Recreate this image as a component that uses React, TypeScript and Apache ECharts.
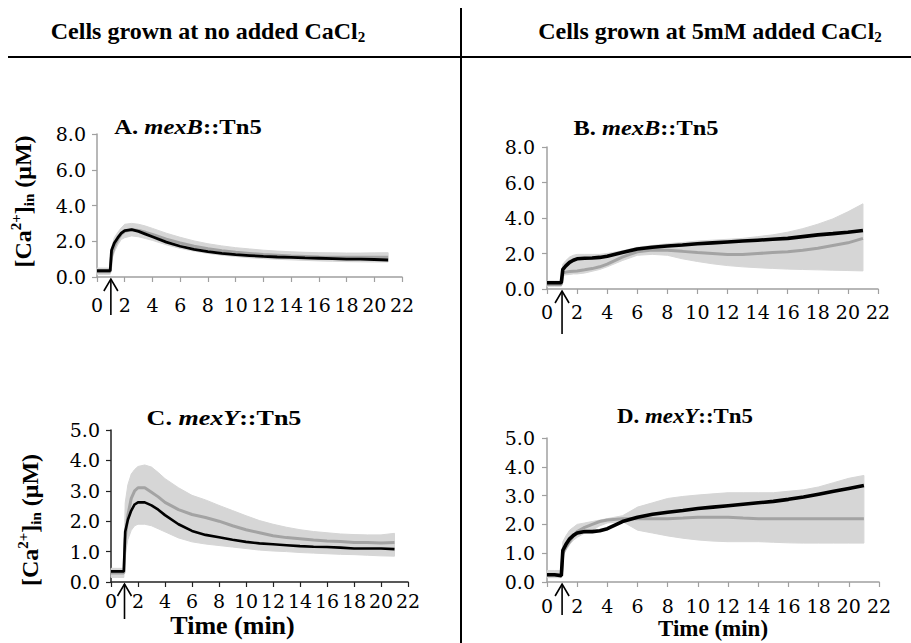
import React, { useEffect, useRef } from "react";
import * as echarts from "echarts";

// ---- data ----
const timeMin = [0, 0.5, 0.95, 1.05, 1.25, 1.5, 1.75, 2, 2.5, 3, 3.5, 4, 5, 6, 7, 8, 9, 10, 11, 12, 13, 14, 15, 16, 17, 18, 19, 20, 21];
const xTicks = [0, 2, 4, 6, 8, 10, 12, 14, 16, 18, 20, 22];

const aBlack = [0.35, 0.35, 0.35, 1.5, 1.9, 2.2, 2.45, 2.6, 2.65, 2.55, 2.4, 2.25, 1.95, 1.72, 1.55, 1.42, 1.32, 1.25, 1.2, 1.15, 1.12, 1.1, 1.07, 1.05, 1.03, 1.0, 1.0, 0.98, 0.95];
const aGray = [0.3, 0.3, 0.3, 1.2, 1.7, 2.1, 2.4, 2.55, 2.65, 2.6, 2.5, 2.38, 2.12, 1.9, 1.72, 1.58, 1.47, 1.38, 1.32, 1.26, 1.22, 1.18, 1.15, 1.12, 1.11, 1.1, 1.1, 1.1, 1.1];
const aLow = [0.15, 0.15, 0.15, 0.9, 1.4, 1.8, 2.1, 2.2, 2.3, 2.25, 2.15, 2.05, 1.8, 1.6, 1.45, 1.32, 1.22, 1.15, 1.08, 1.03, 0.99, 0.96, 0.93, 0.9, 0.88, 0.86, 0.85, 0.84, 0.84];
const aHigh = [0.5, 0.5, 0.5, 1.6, 2.2, 2.5, 2.75, 2.95, 3.0, 2.95, 2.85, 2.72, 2.45, 2.22, 2.02, 1.86, 1.74, 1.64, 1.57, 1.5, 1.45, 1.41, 1.38, 1.36, 1.35, 1.34, 1.34, 1.35, 1.36];

const bBlack = [0.35, 0.35, 0.35, 1.1, 1.3, 1.5, 1.62, 1.7, 1.73, 1.75, 1.78, 1.85, 2.05, 2.25, 2.35, 2.42, 2.48, 2.55, 2.6, 2.65, 2.7, 2.75, 2.8, 2.85, 2.95, 3.05, 3.12, 3.2, 3.3];
const bGray = [0.25, 0.25, 0.25, 0.9, 0.95, 0.98, 1.0, 1.02, 1.08, 1.15, 1.25, 1.4, 1.8, 2.1, 2.2, 2.18, 2.12, 2.05, 2.0, 1.95, 1.95, 2.0, 2.05, 2.1, 2.18, 2.3, 2.45, 2.6, 2.85];
const bLow = [0.15, 0.15, 0.15, 0.75, 0.8, 0.82, 0.85, 0.85, 0.9, 1.0, 1.1, 1.25, 1.6, 1.9, 1.95, 1.9, 1.7, 1.55, 1.42, 1.32, 1.25, 1.2, 1.16, 1.12, 1.1, 1.08, 1.06, 1.04, 1.02];
const bHigh = [0.45, 0.45, 0.45, 1.4, 1.6, 1.8, 1.9, 1.95, 1.95, 1.95, 1.95, 2.0, 2.15, 2.35, 2.45, 2.55, 2.62, 2.7, 2.75, 2.8, 2.85, 2.95, 3.05, 3.2, 3.4, 3.65, 3.95, 4.35, 4.8];

const cBlack = [0.35, 0.35, 0.35, 1.65, 2.05, 2.35, 2.55, 2.62, 2.62, 2.52, 2.38, 2.2, 1.9, 1.68, 1.55, 1.47, 1.39, 1.32, 1.27, 1.24, 1.21, 1.18, 1.16, 1.15, 1.13, 1.1, 1.1, 1.1, 1.08];
const cGray = [0.3, 0.3, 0.3, 1.4, 2.2, 2.75, 3.0, 3.1, 3.1, 2.95, 2.8, 2.62, 2.38, 2.22, 2.12, 2.0, 1.85, 1.72, 1.62, 1.52, 1.46, 1.42, 1.38, 1.35, 1.33, 1.3, 1.3, 1.28, 1.3];
const cLow = [0.15, 0.15, 0.15, 0.9, 1.4, 1.7, 1.85, 1.9, 1.9, 1.85, 1.75, 1.65, 1.45, 1.32, 1.25, 1.2, 1.15, 1.1, 1.05, 1.02, 1.0, 0.97, 0.95, 0.93, 0.91, 0.9, 0.88, 0.86, 0.85];
const cHigh = [0.45, 0.45, 0.45, 2.6, 3.2, 3.55, 3.7, 3.8, 3.85, 3.78, 3.6, 3.4, 3.1, 2.85, 2.7, 2.52, 2.35, 2.18, 2.02, 1.9, 1.8, 1.72, 1.66, 1.62, 1.58, 1.56, 1.55, 1.55, 1.6];

const dBlack = [0.25, 0.25, 0.22, 1.1, 1.3, 1.5, 1.62, 1.7, 1.75, 1.75, 1.78, 1.85, 2.1, 2.25, 2.35, 2.42, 2.48, 2.55, 2.6, 2.65, 2.7, 2.75, 2.8, 2.87, 2.95, 3.05, 3.15, 3.25, 3.35];
const dGray = [0.25, 0.25, 0.25, 1.0, 1.2, 1.4, 1.6, 1.75, 1.9, 2.0, 2.1, 2.15, 2.2, 2.2, 2.2, 2.2, 2.22, 2.25, 2.25, 2.25, 2.22, 2.2, 2.2, 2.2, 2.2, 2.2, 2.2, 2.2, 2.2];
const dLow = [0.15, 0.15, 0.15, 0.9, 1.1, 1.3, 1.45, 1.55, 1.7, 1.8, 1.95, 2.05, 2.1, 1.8, 1.7, 1.6, 1.52, 1.46, 1.42, 1.4, 1.4, 1.4, 1.38, 1.36, 1.35, 1.35, 1.35, 1.35, 1.35];
const dHigh = [0.4, 0.4, 0.4, 1.4, 1.6, 1.8, 1.9, 2.0, 2.05, 2.1, 2.15, 2.2, 2.3, 2.6, 2.75, 2.9, 2.97, 3.02, 3.06, 3.1, 3.1, 3.1, 3.1, 3.15, 3.2, 3.3, 3.45, 3.6, 3.7];

const panelLetters = ["A", "B", "C", "D"];
const panelGenes = ["mexB", "mexB", "mexY", "mexY"];
const panelYMax = [8, 8, 5, 5];
const panelYStep = [2, 2, 1, 1];
const headerTexts = ["Cells grown at no added CaCl", "Cells grown at 5mM added CaCl"];
const stimulusTime = 1;
const xAxisTitle = "Time (min)";

// ---- layout / style ----
const W = 911;
const H = 643;
const serif = "'Liberation Serif', 'Times New Roman', serif";
const tickFont = "'DejaVu Serif', serif";

const layout = [
  { left: 97, top: 134, width: 305, height: 143, xMargin: 18, yMargin: 11, axisColor: "#a0a0a0", title: [188, 127, 1.17], arrowLen: 36, yName: 60, yNamePad: [0, 0, 0, 8], xName: null as null | number, xNamePad: 0, xNameSize: 24, blackW: 2.8 },
  { left: 547, top: 147, width: 331, height: 142, xMargin: 13, yMargin: 12, axisColor: "#a0a0a0", title: [646, 128, 1.16], arrowLen: 43, yName: null as null | number, yNamePad: [0, 0, 0, 0], xName: null as null | number, xNamePad: 0, xNameSize: 24, blackW: 3.6 },
  { left: 111, top: 430, width: 297, height: 152, xMargin: 9, yMargin: 11, axisColor: "#222222", title: [224, 418, 1.24], arrowLen: 35, yName: 67, yNamePad: [0, 28, 0, 0], xName: 30 as null | number, xNamePad: 54, xNameSize: 26, blackW: 2.6 },
  { left: 547, top: 438, width: 332, height: 144, xMargin: 14, yMargin: 12, axisColor: "#a0a0a0", title: [685, 416, 1.09], arrowLen: 31, yName: null as null | number, yNamePad: [0, 0, 0, 0], xName: 35 as null | number, xNamePad: 0, xNameSize: 23, blackW: 3.6 },
];

const blacks = [aBlack, bBlack, cBlack, dBlack];
const grays = [aGray, bGray, cGray, dGray];
const lows = [aLow, bLow, cLow, dLow];
const highs = [aHigh, bHigh, cHigh, dHigh];

const yNameRich = {
  t: { fontFamily: serif, fontWeight: "bold", fontSize: 24, color: "#000" },
  sup: { fontFamily: serif, fontWeight: "bold", fontSize: 15, color: "#000", padding: [0, 0, 14, 0] },
  sub: { fontFamily: serif, fontWeight: "bold", fontSize: 15, color: "#000", padding: [12, 0, 0, 0] },
};

function pairs(xs: number[], ys: number[]) {
  return xs.map((x, k) => [x, ys[k]]);
}

export default function App() {
  const ref = useRef<HTMLDivElement>(null);

  useEffect(() => {
    document.body.style.margin = "0";
    if (!ref.current) return;
    const chart = echarts.init(ref.current, undefined, { renderer: "svg" });

    const grids = layout.map((l) => ({
      left: l.left,
      top: l.top,
      width: l.width,
      height: l.height,
      containLabel: false,
      outerBoundsMode: "none",
    }));

    const xAxes = layout.map((l, i) => ({
      type: "value",
      gridIndex: i,
      min: xTicks[0],
      max: xTicks[xTicks.length - 1],
      interval: 2,
      splitLine: { show: false },
      axisLine: { show: true, lineStyle: { color: l.axisColor, width: 1.5 } },
      axisTick: { show: true, length: 5, lineStyle: { color: l.axisColor, width: 1.2 } },
      axisLabel: { fontFamily: tickFont, fontSize: 19, color: "#000", margin: l.xMargin },
      name: l.xName !== null ? xAxisTitle : "",
      nameLocation: "middle",
      nameGap: l.xName ?? 0,
      nameMoveOverlap: false,
      nameTextStyle: {
        fontFamily: serif,
        fontWeight: "bold",
        fontSize: l.xNameSize,
        color: "#000",
        padding: [0, l.xNamePad, 0, 0],
      },
    }));

    const yAxes = layout.map((l, i) => ({
      type: "value",
      gridIndex: i,
      min: 0,
      max: panelYMax[i],
      interval: panelYStep[i],
      splitLine: { show: false },
      axisLine: { show: true, lineStyle: { color: l.axisColor, width: 1.5 } },
      axisTick: { show: true, length: 5, lineStyle: { color: l.axisColor, width: 1.2 } },
      axisLabel: {
        fontFamily: tickFont,
        fontSize: 19,
        color: "#000",
        margin: l.yMargin,
        formatter: (v: number) => v.toFixed(1),
      },
      name: l.yName !== null ? "{t|[Ca}{sup|2+}{t|]}{sub|in}{t| (μM)}" : "",
      nameLocation: "middle",
      nameRotate: 90,
      nameGap: l.yName ?? 0,
      nameMoveOverlap: false,
      nameTextStyle: { rich: yNameRich, fontFamily: serif, fontWeight: "bold", fontSize: 24, color: "#000", padding: l.yNamePad },
    }));

    const series: any[] = [];
    layout.forEach((l, i) => {
      const low = lows[i];
      const high = highs[i];
      series.push({
        type: "custom",
        name: "band" + i,
        xAxisIndex: i,
        yAxisIndex: i,
        silent: true,
        z: 1,
        data: timeMin.map((t, k) => [t, low[k], high[k]]),
        encode: { x: 0, y: [1, 2] },
        renderItem: (params: any, api: any) => {
          if (params.dataIndex !== 0) return { type: "group", children: [] };
          const pts: number[][] = [];
          for (let k = 0; k < timeMin.length; k++) pts.push(api.coord([timeMin[k], high[k]]));
          for (let k = timeMin.length - 1; k >= 0; k--) pts.push(api.coord([timeMin[k], low[k]]));
          return { type: "polygon", shape: { points: pts }, style: { fill: "#d6d6d6", stroke: "#d6d6d6", lineWidth: 1 } };
        },
      });
      series.push({
        type: "line",
        name: "gray" + i,
        xAxisIndex: i,
        yAxisIndex: i,
        showSymbol: false,
        symbol: "none",
        z: 3,
        lineStyle: { color: "#a3a3a3", width: 3 },
        data: pairs(timeMin, grays[i]),
      });
      series.push({
        type: "line",
        name: "black" + i,
        xAxisIndex: i,
        yAxisIndex: i,
        showSymbol: false,
        symbol: "none",
        z: 4,
        lineStyle: { color: "#000", width: l.blackW },
        data: pairs(timeMin, blacks[i]),
      });
    });

    chart.setOption({
      animation: false,
      backgroundColor: "#ffffff",
      grid: grids,
      xAxis: xAxes,
      yAxis: yAxes,
      series,
    });

    const titleRich = (size: number) => ({
      n: { fontFamily: serif, fontWeight: "bold", fontSize: size, fill: "#000", color: "#000" },
      i: { fontFamily: serif, fontWeight: "bold", fontStyle: "italic", fontSize: size, fill: "#000", color: "#000" },
    });
    const headerRich = {
      h: { fontFamily: serif, fontWeight: "bold", fontSize: 24, fill: "#000", color: "#000" },
      s: { fontFamily: serif, fontWeight: "bold", fontSize: 15, fill: "#000", color: "#000", padding: [12, 0, 0, 0] },
    };

    const graphics: any[] = [
      { type: "line", shape: { x1: 8, y1: 57, x2: W, y2: 57 }, style: { stroke: "#000", lineWidth: 2.2 } },
      { type: "line", shape: { x1: 461, y1: 8, x2: 461, y2: H }, style: { stroke: "#000", lineWidth: 2 } },
      {
        type: "text",
        x: 208,
        y: 31,
        style: { text: "{h|" + headerTexts[0] + "}{s|2}", rich: headerRich, align: "center", verticalAlign: "middle" },
      },
      {
        type: "text",
        x: 710,
        y: 31,
        style: { text: "{h|" + headerTexts[1] + "}{s|2}", rich: headerRich, align: "center", verticalAlign: "middle" },
      },
    ];

    layout.forEach((l, i) => {
      graphics.push({
        type: "text",
        x: l.title[0],
        y: l.title[1],
        scaleX: l.title[2],
        style: {
          text: "{n|" + panelLetters[i] + ". }{i|" + panelGenes[i] + "}{n|::Tn5}",
          rich: titleRich(21),
          align: "center",
          verticalAlign: "middle",
        },
      });
      const p = chart.convertToPixel({ xAxisIndex: i, yAxisIndex: i } as any, [stimulusTime, 0]) as number[];
      const px = p[0];
      const py = p[1] + 2;
      graphics.push({
        type: "line",
        shape: { x1: px, y1: py, x2: px, y2: py + l.arrowLen },
        style: { stroke: "#000", lineWidth: 1.6 },
      });
      graphics.push({
        type: "polyline",
        shape: { points: [[px - 7, py + 12], [px, py], [px + 7, py + 12]] },
        style: { stroke: "#000", lineWidth: 1.6, fill: "none" },
      });
    });

    chart.setOption({ graphic: graphics });

    return () => {
      chart.dispose();
    };
  }, []);

  return <div ref={ref} style={{ width: W, height: H }} />;
}
